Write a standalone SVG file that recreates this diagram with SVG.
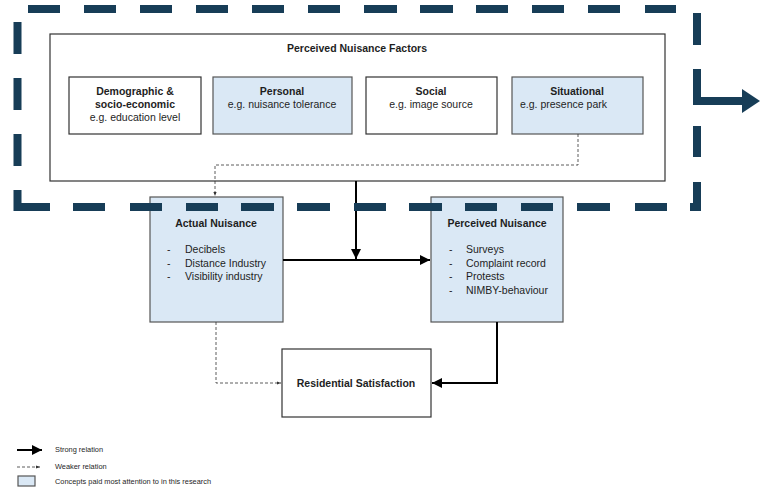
<svg xmlns="http://www.w3.org/2000/svg" width="760" height="492" viewBox="0 0 760 492">
<defs>
<style>
text{font-family:"Liberation Sans",Arial,sans-serif;fill:#1e1e1e;font-size:10.5px}
.b{font-weight:bold}
.c{text-anchor:middle}
.box{fill:#fff;stroke:#333;stroke-width:1.2}
.blue{fill:#dae8f5;stroke:#555;stroke-width:1.2}
.strong{fill:none;stroke:#000;stroke-width:2}
.weak{fill:none;stroke:#333;stroke-width:0.8;stroke-dasharray:3 2}
.frame{fill:none;stroke:#173d57;stroke-width:8}
.leg{font-size:7.4px}
</style>
<marker id="ah" viewBox="0 0 10 10" refX="10" refY="5" markerWidth="5" markerHeight="5" markerUnits="strokeWidth" orient="auto"><path d="M0,0 L10,5 L0,10 z" fill="#000"/></marker>
<marker id="ahs" viewBox="0 0 10 10" refX="10" refY="5" markerWidth="5" markerHeight="5" markerUnits="strokeWidth" orient="auto"><path d="M0,1 L10,5 L0,9 z" fill="#333"/></marker>
</defs>
<rect width="760" height="492" fill="#fff"/>

<g id="perceived-nuisance-factors">
<rect class="box" x="50" y="34" width="615" height="147"/>
<text class="b c" x="357" y="52">Perceived Nuisance Factors</text>
</g>
<g id="demographic">
<rect class="box" x="69" y="77" width="132" height="57"/>
<text class="b c" x="135" y="95">Demographic &amp;</text>
<text class="b c" x="135" y="108">socio-economic</text>
<text class="c" x="135" y="121">e.g. education level</text>
</g>
<g id="personal">
<rect class="blue" x="213" y="77" width="139" height="57"/>
<text class="b c" x="282" y="95">Personal</text>
<text class="c" x="282" y="108">e.g. nuisance tolerance</text>
</g>
<g id="social">
<rect class="box" x="366" y="77" width="131" height="57"/>
<text class="b c" x="431" y="95">Social</text>
<text class="c" x="431" y="108">e.g. image source</text>
</g>
<g id="situational">
<rect class="blue" x="512" y="77" width="131" height="57"/>
<text class="b c" x="577" y="95">Situational</text>
<text x="520" y="108">e.g. presence park</text>
</g>

<g id="actual-nuisance">
<rect class="blue" x="150" y="197" width="133" height="125"/>
<text class="b c" x="216" y="227">Actual Nuisance</text>
<text x="167" y="253">-</text><text x="185" y="253">Decibels</text>
<text x="167" y="267">-</text><text x="185" y="267">Distance Industry</text>
<text x="167" y="280">-</text><text x="185" y="280">Visibility industry</text>
</g>
<g id="perceived-nuisance">
<rect class="blue" x="431" y="197" width="132" height="125"/>
<text class="b c" x="497" y="227">Perceived Nuisance</text>
<text x="449" y="253">-</text><text x="466" y="253">Surveys</text>
<text x="449" y="267">-</text><text x="466" y="267">Complaint record</text>
<text x="449" y="280">-</text><text x="466" y="280">Protests</text>
<text x="449" y="294">-</text><text x="466" y="294">NIMBY-behaviour</text>
</g>
<g id="residential-satisfaction">
<rect class="box" x="282" y="349" width="149" height="68"/>
<text class="b c" x="356" y="387">Residential Satisfaction</text>
</g>

<g id="connectors">
<path class="weak" d="M578,134 V165 H215 V196" marker-end="url(#ahs)"/>
<path class="weak" d="M216,322 V383 H281" marker-end="url(#ahs)"/>
<path class="strong" d="M356,181 V259" marker-end="url(#ah)"/>
<path class="strong" d="M283,260 H430" marker-end="url(#ah)"/>
<path class="strong" d="M497,322 V383 H432" marker-end="url(#ah)"/>
</g>

<g id="frame">
<path class="frame" d="M28,9 H60 M84,9 H116 M140,9 H172 M196,9 H228 M252,9 H284 M308,9 H340 M364,9 H397 M420,9 H453 M476,9 H508 M532,9 H564 M588,9 H620 M645,9 H676"/>
<path class="frame" d="M17.5,22 V54 M17.5,78 V110 M17.5,134 V166"/>
<path class="frame" d="M17.5,190 V207 H50"/>
<path class="frame" d="M73,207 H105 M130,207 H162 M186,207 H218 M241,207 H274 M297,207 H330 M354,207 H386 M409,207 H442 M465,207 H497 M521,207 H553 M577,207 H610 M635,207 H667"/>
<path class="frame" d="M697,13 V45 M697,126 V157"/>
<path class="frame" d="M697,182 V207 H690"/>
<path class="frame" d="M697,69 V101 H744"/>
<polygon points="742,89 760,101 742,113" fill="#173d57"/>
</g>

<g id="legend">
<path class="strong" d="M17,450 H42" marker-end="url(#ah)"/>
<text class="leg" x="55" y="452">Strong relation</text>
<path class="weak" d="M17,467 H40" marker-end="url(#ahs)"/>
<text class="leg" x="55" y="469">Weaker relation</text>
<rect class="blue" x="18" y="476" width="17" height="10"/>
<text class="leg" x="55" y="484">Concepts paid most attention to in this research</text>
</g>
</svg>
